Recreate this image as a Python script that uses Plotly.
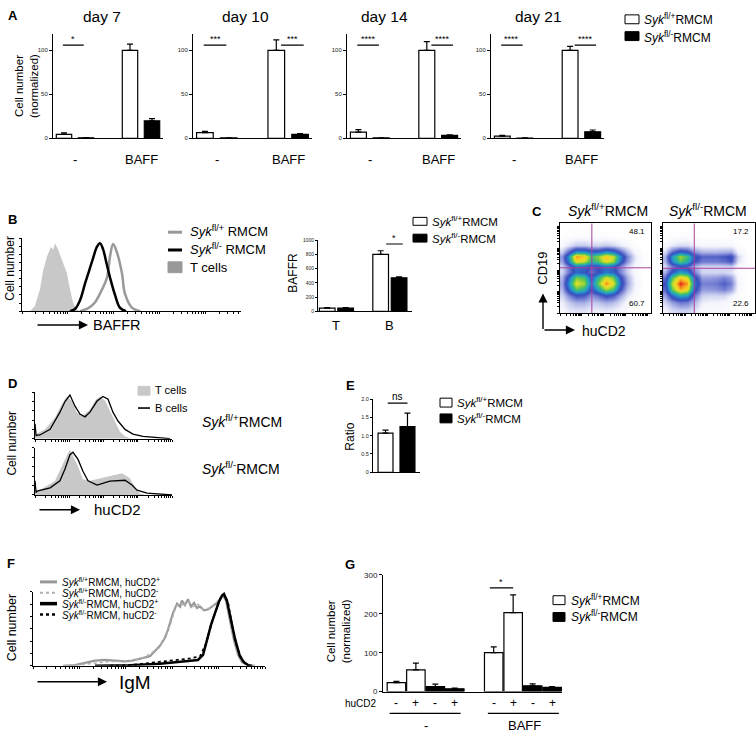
import math
import plotly.graph_objects as go

W, H = 756, 742
FONT = 'Liberation Sans, Arial, sans-serif'

# ======================= DATA =======================
# Panel A (normalized cell number)
A_days = ['day 7', 'day 10', 'day 14', 'day 21']
A_groups = ['-', 'BAFF']
A_flp = [[4.5, 100], [6.5, 100], [7, 100], [2.5, 100]]
A_flp_err = [[1.8, 7], [1.5, 12], [3, 10], [0.8, 4.5]]
A_flm = [[0.6, 20], [0.5, 4.5], [0.5, 3.4], [0.4, 7.5]]
A_flm_err = [[0.2, 2.5], [0.2, 1], [0.2, 0.6], [0.2, 2]]
A_sig = [['*', ''], ['***', '***'], ['****', '****'], ['****', '****']]

# Panel B histogram (BAFFR, relative counts)
B_T_x = [3.7, 5.9, 8.2, 9.6, 11.4, 13.2, 14.2, 15.1, 16.4, 18.3, 20.5, 21.9, 23.3, 24.7, 26.5]
B_T_y = [0, 0.07, 0.3, 0.55, 0.75, 0.88, 0.84, 0.93, 0.85, 0.7, 0.52, 0.3, 0.12, 0.03, 0]
B_flm_x = [21.9, 24.2, 26.5, 28.8, 30.6, 32.4, 34.2, 35.6, 37.0, 38.4, 40.2, 42.5, 44.7, 47.5]
B_flm_y = [0, 0.03, 0.15, 0.38, 0.55, 0.72, 0.88, 0.93, 0.85, 0.68, 0.46, 0.22, 0.05, 0]
B_flp_x = [26.5, 30.1, 33.3, 35.6, 38.8, 40.2, 41.6, 43.4, 45.7, 47.0, 50.2, 54.0]
B_flp_y = [0, 0.04, 0.12, 0.24, 0.46, 0.75, 0.92, 0.8, 0.51, 0.24, 0.05, 0]

# Panel B bar (BAFFR MFI)
B_cells = ['T', 'B']
B_bar_flp = [45, 800]
B_bar_flp_err = [5, 50]
B_bar_flm = [45, 470]
B_bar_flm_err = [5, 15]

# Panel C density grids (CD19 vs huCD2), rows bottom -> top
C_x = [2, 10, 18, 26, 34, 42, 50, 58, 66, 74, 82, 92]
C_y = [3, 12, 20, 27, 33, 40, 46, 52, 58, 63, 68, 75, 85, 97]
C_flp = [
    [0.4, 0.7, 0.8, 0.8, 0.6, 0.6, 0.7, 0.6, 0.4, 0.2, 0.05, 0],
    [0.6, 1.2, 1.6, 1.6, 1.2, 1.3, 1.6, 1.4, 0.9, 0.4, 0.1, 0],
    [1, 2.2, 3.2, 3, 2, 2.6, 3.4, 3, 1.8, 0.8, 0.2, 0],
    [1.5, 4, 6.2, 5.5, 3.2, 5, 7, 6, 3.2, 1.4, 0.4, 0],
    [1.8, 4.8, 7.8, 7, 4, 6.5, 9.2, 7.8, 4, 1.8, 0.5, 0],
    [1.5, 4, 6.5, 6, 3.5, 5.5, 7.5, 6.5, 3.5, 1.6, 0.4, 0],
    [1, 2.5, 3.8, 3.5, 2.5, 3.2, 4.2, 3.8, 2.3, 1.1, 0.3, 0],
    [1, 2.5, 4, 3.8, 3, 3.2, 4, 3.5, 2.2, 1.1, 0.3, 0],
    [1.8, 4.5, 8, 7.5, 5.5, 6.2, 8, 7, 4, 2, 0.6, 0.05],
    [2, 5, 9, 8.5, 6, 6.8, 8.5, 7.5, 4.5, 2.3, 0.7, 0.05],
    [1.2, 3, 5, 5, 4, 4, 5, 4.5, 3, 1.5, 0.4, 0],
    [0.3, 0.8, 1.2, 1.2, 1, 1, 1.2, 1, 0.7, 0.4, 0.1, 0],
    [0, 0.1, 0.2, 0.2, 0.15, 0.15, 0.15, 0.1, 0.05, 0, 0, 0],
    [0, 0, 0, 0, 0, 0, 0, 0, 0, 0, 0, 0],
]
C_flm = [
    [0.5, 0.9, 1.1, 1.1, 0.8, 0.3, 0.3, 0.25, 0.2, 0.1, 0, 0],
    [1, 1.8, 2.4, 2.3, 1.5, 0.6, 0.5, 0.5, 0.4, 0.2, 0.05, 0],
    [1.8, 3.8, 5.2, 4.8, 2.5, 1.1, 1, 1, 1, 0.6, 0.1, 0],
    [2.8, 6.4, 8.8, 8, 3.8, 1.9, 1.9, 2, 2.3, 1.8, 0.3, 0],
    [3.2, 7.2, 10, 9, 4.3, 2.3, 2.3, 2.4, 2.9, 2.3, 0.4, 0],
    [2.6, 6, 8.3, 7.6, 3.8, 1.8, 1.8, 1.9, 2.2, 1.8, 0.3, 0],
    [1.6, 3.6, 5, 4.5, 2.4, 1, 1, 1, 1, 0.8, 0.2, 0],
    [0.9, 2.3, 3.2, 2.8, 1.6, 1, 1, 1, 1, 1.1, 0.3, 0],
    [1.5, 4.3, 6.3, 5.4, 3.2, 2.4, 2.4, 2.4, 2.6, 3, 0.8, 0.05],
    [1.6, 4.8, 7, 6, 3.6, 2.8, 2.8, 2.8, 3, 3.4, 1, 0.05],
    [1, 2.8, 4, 3.6, 2.2, 1.6, 1.6, 1.6, 1.7, 1.8, 0.5, 0],
    [0.3, 0.7, 0.9, 0.9, 0.6, 0.4, 0.4, 0.4, 0.4, 0.4, 0.1, 0],
    [0, 0.1, 0.15, 0.15, 0.1, 0, 0, 0, 0, 0, 0, 0],
    [0, 0, 0, 0, 0, 0, 0, 0, 0, 0, 0, 0],
]
C_gate_x = [35, 34]
C_gate_y = [50.5, 50]
C_pct_top = ['48.1', '17.2']
C_pct_bot = ['60.7', '22.6']

# Panel D histograms (huCD2)
D_up_T_x = [0, 0.8, 7.3, 14.6, 19.7, 23.4, 27.0, 30.7, 35.0, 40.1, 44.5, 47.4, 51.1, 54.7, 58.4, 62.0, 65.7, 70.8]
D_up_T_y = [0.3, 0.1, 0.2, 0.45, 0.75, 0.92, 0.8, 0.55, 0.5, 0.62, 0.85, 0.9, 0.82, 0.6, 0.35, 0.15, 0.05, 0]
D_up_B_x = [0, 0.8, 3.6, 11.0, 18.2, 21.9, 25.5, 29.2, 32.8, 36.5, 40.1, 45.3, 49.6, 53.3, 56.9, 60.6, 65.7, 71.5, 78.8, 89.0, 98.5]
D_up_B_y = [0.32, 0.07, 0.08, 0.2, 0.57, 0.8, 0.94, 0.7, 0.53, 0.47, 0.57, 0.81, 0.91, 0.85, 0.57, 0.38, 0.2, 0.1, 0.05, 0.02, 0]
D_lo_T_x = [0, 0.8, 3.6, 14.6, 21.9, 25.5, 31.4, 35.0, 40.1, 47.4, 58.4, 63.5, 69.3, 73.0, 76.6, 80.3]
D_lo_T_y = [0.3, 0.08, 0.1, 0.3, 0.75, 0.96, 0.6, 0.33, 0.3, 0.35, 0.42, 0.46, 0.35, 0.15, 0.03, 0]
D_lo_B_x = [0, 0.8, 1.5, 11.0, 18.2, 21.9, 25.5, 27.7, 31.4, 35.0, 38.7, 45.3, 54.7, 65.7, 70.8, 74.5, 81.8, 96.4, 100]
D_lo_B_y = [0.3, 0.05, 0.08, 0.15, 0.3, 0.55, 0.85, 0.9, 0.75, 0.5, 0.3, 0.21, 0.29, 0.31, 0.21, 0.1, 0.04, 0.01, 0]

# Panel E (ratio)
E_flp, E_flp_err = 1.07, 0.08
E_flm, E_flm_err = 1.25, 0.37

# Panel F histograms (IgM)
F_gp_x = [12.9, 18.1, 22.4, 26.7, 31.0, 35.3, 39.7, 42.7, 46.1, 50.4, 54.7, 56.9, 58.2, 60.3, 62.1, 63.4, 64.2, 65.5, 66.8, 68.1,
          69.4, 70.7, 72.0, 73.7, 75.4, 77.2, 78.9, 80.6, 81.9, 83.2, 84.9, 86.6, 88.4, 90.1, 92.7, 95.7]
F_gp_y = [0, 0.01, 0.04, 0.07, 0.08, 0.07, 0.06, 0.07, 0.1, 0.13, 0.27, 0.38, 0.49, 0.71, 0.84, 0.8, 0.88, 0.82, 0.9, 0.8,
          0.85, 0.78, 0.8, 0.75, 0.76, 0.8, 0.84, 0.9, 0.95, 0.88, 0.6, 0.35, 0.15, 0.05, 0.01, 0]
F_gm_x = [15.9, 24.6, 33.2, 41.8, 48.3, 54.7, 59.1, 61.6, 63.4, 65.1, 66.8, 69.0, 71.1, 73.3, 76.3, 79.3, 81.5, 83.2, 84.9, 87.1, 89.2, 91.8, 94.4]
F_gm_y = [0, 0.03, 0.06, 0.06, 0.12, 0.25, 0.55, 0.8, 0.85, 0.8, 0.88, 0.8, 0.83, 0.76, 0.78, 0.85, 0.93, 0.9, 0.65, 0.3, 0.1, 0.02, 0]
F_bp_x = [26.7, 41.8, 54.7, 65.5, 71.1, 73.3, 75.0, 76.7, 78.4, 80.2, 81.5, 82.3, 83.6, 84.9, 87.1, 89.2, 90.9, 92.7, 94.4]
F_bp_y = [0, 0.01, 0.03, 0.06, 0.08, 0.15, 0.36, 0.55, 0.71, 0.87, 0.95, 0.97, 0.88, 0.67, 0.36, 0.13, 0.05, 0.01, 0]
F_bm_x = [33.2, 41.8, 50.4, 59.1, 67.7, 72.0, 74.6, 77.2, 79.3, 81.0, 82.3, 84.1, 85.8, 87.9, 90.1, 92.7]
F_bm_y = [0, 0.01, 0.04, 0.07, 0.1, 0.13, 0.3, 0.6, 0.8, 0.93, 0.97, 0.85, 0.55, 0.25, 0.08, 0]

# Panel G (normalized cell number)
G_groups = ['-', 'BAFF']
G_hucd2 = ['-', '+', '-', '+']
G_flp = [23, 56, 100, 203]
G_flp_err = [3, 17, 15, 46]
G_flm = [13, 7, 15, 11]
G_flm_err = [6, 2, 5, 2]

# ======================= HELPERS =======================
def X(p):
    return p / W

def Y(p):
    return 1 - p / H

layout = dict(width=W, height=H, margin=dict(l=0, r=0, t=0, b=0, pad=0),
              paper_bgcolor='white', plot_bgcolor='white', showlegend=False,
              barmode='overlay', font=dict(family=FONT, color='black'))
annotations = []
shapes = []
fig = go.Figure()

BASE = dict(showgrid=False, zeroline=False, showline=True, linecolor='black', linewidth=1,
            ticks='outside', tickcolor='black', ticklen=3, tickwidth=1,
            tickfont=dict(size=6, color='black', family=FONT), fixedrange=True)


def axes(n, xpx, ypx, xr, yr, xkw=None, ykw=None):
    xa = dict(BASE, domain=[X(xpx[0]), X(xpx[1])], range=xr, anchor='y%d' % n)
    ya = dict(BASE, domain=[Y(ypx[1]), Y(ypx[0])], range=yr, anchor='x%d' % n)
    xa.update(xkw or {})
    ya.update(ykw or {})
    layout['xaxis%d' % n] = xa
    layout['yaxis%d' % n] = ya
    return 'x%d' % n, 'y%d' % n


def log_ticks(start, decade, n_dec, limit=100):
    vals = []
    for d in range(n_dec + 1):
        for k in range(1, 10):
            v = start + decade * (d + math.log10(k))
            if v <= limit:
                vals.append(v)
    return vals


def text(x, y, s, size=12, xanchor='center', yanchor='middle', xref='paper', yref='paper', angle=0, bold=False, color='black'):
    if bold:
        s = '<b>%s</b>' % s
    annotations.append(dict(x=x, y=y, xref=xref, yref=yref, text=s, showarrow=False,
                            xanchor=xanchor, yanchor=yanchor, textangle=angle,
                            font=dict(size=size, family=FONT, color=color)))


def arrow(hx, hy, dx, dy):
    annotations.append(dict(x=X(hx), y=Y(hy), xref='paper', yref='paper', text='', showarrow=True,
                            ax=dx, ay=dy, arrowhead=2, arrowsize=1.3, arrowwidth=1.4, arrowcolor='black'))


def rect(x0, y0, x1, y1, fill, line='black'):
    shapes.append(dict(type='rect', xref='paper', yref='paper', x0=X(x0), x1=X(x1), y0=Y(y1), y1=Y(y0),
                       fillcolor=fill, line=dict(color=line, width=1)))


def hline_px(x0, x1, y, color, width, dash='solid'):
    shapes.append(dict(type='line', xref='paper', yref='paper', x0=X(x0), x1=X(x1), y0=Y(y), y1=Y(y),
                       line=dict(color=color, width=width, dash=dash)))


def bars(xa, ya, xs, ys, errs, color, width):
    fig.add_trace(go.Bar(x=xs, y=ys, width=width, xaxis=xa, yaxis=ya,
                         marker=dict(color=color, line=dict(color='black', width=1.2)),
                         error_y=dict(type='data', array=errs, arrayminus=[0] * len(errs), symmetric=False,
                                      color='black', thickness=1.2, width=3)))


def sig(xa, ya, x0, x1, y, star, size=9):
    shapes.append(dict(type='line', xref=xa, yref=ya, x0=x0, x1=x1, y0=y, y1=y,
                       line=dict(color='black', width=1.2)))
    annotations.append(dict(x=(x0 + x1) / 2, y=y, xref=xa, yref=ya, text=star, showarrow=False,
                            yanchor='bottom', yshift=-1, font=dict(size=size, family=FONT, color='black')))


SYK_P = '<i>Syk</i><sup>fl/+</sup>RMCM'
SYK_M = '<i>Syk</i><sup>fl/-</sup>RMCM'

# ======================= PANEL A =======================
A_xpx = [(53, 163), (193, 312), (347, 461), (491, 604)]
A_title_px = [102, 245, 384, 538]
for i in range(4):
    xa, ya = axes(i + 1, A_xpx[i], (30, 136), [-0.5, 4.5], [0, 119],
                  xkw=dict(ticks='', showticklabels=False),
                  ykw=dict(tickvals=[0, 50, 100], tickfont=dict(size=6, family=FONT, color='#222')))
    bars(xa, ya, [0, 3], A_flp[i], A_flp_err[i], 'white', 0.7)
    bars(xa, ya, [1, 4], A_flm[i], A_flm_err[i], 'black', 0.7)
    for g, gx in zip(A_groups, [0.5, 3.5]):
        text(gx, Y(157), g, size=13, xref=xa)
    text(X(A_title_px[i]), Y(13), A_days[i], size=15.5)
    if A_sig[i][0]:
        sig(xa, ya, -0.05, 0.9, 106, A_sig[i][0])
    if A_sig[i][1]:
        sig(xa, ya, 3.2, 4.15, 106, A_sig[i][1])
text(X(27), Y(83), 'Cell number<br>(normalized)', size=11.5, angle=-90)
text(X(6), Y(12), 'A', size=13, bold=True, xanchor='left')
rect(625, 11, 639, 20, 'white')
rect(625, 28, 639, 37, 'black')
text(X(642), Y(15), SYK_P, size=12, xanchor='left')
text(X(642), Y(33), SYK_M, size=12, xanchor='left')

# ======================= PANEL B =======================
xa, ya = axes(5, (22, 241), (237, 311), [0, 100], [0, 1],
              xkw=dict(tickvals=log_ticks(0, 21, 4), showticklabels=False, ticklen=2),
              ykw=dict(tickvals=[i / 9 for i in range(10)], showticklabels=False, ticklen=2))
fig.add_trace(go.Scatter(x=B_T_x, y=B_T_y, mode='lines', fill='tozeroy', fillcolor='#c8c8c8',
                         line=dict(width=0, color='#c8c8c8'), xaxis=xa, yaxis=ya))
fig.add_trace(go.Scatter(x=B_flp_x, y=B_flp_y, mode='lines', line=dict(width=2.5, color='#999999', shape='spline'),
                         xaxis=xa, yaxis=ya))
fig.add_trace(go.Scatter(x=B_flm_x, y=B_flm_y, mode='lines', line=dict(width=2.5, color='black', shape='spline'),
                         xaxis=xa, yaxis=ya))
text(X(10), Y(268), 'Cell number', size=12, angle=-90)
arrow(88, 325, -52, 0)
text(X(91), Y(325), 'BAFFR', size=14.5, xanchor='left')
text(X(6), Y(218), 'B', size=13, bold=True, xanchor='left')
hline_px(168, 182, 231, '#999999', 3)
hline_px(168, 182, 249, 'black', 3)
rect(168, 261, 182, 272, '#999999', line='#999999')
text(X(188), Y(230), '<i>Syk</i><sup>fl/+</sup> RMCM', size=13, xanchor='left')
text(X(188), Y(248), '<i>Syk</i><sup>fl/-</sup> RMCM', size=13, xanchor='left')
text(X(188), Y(267), 'T cells', size=13, xanchor='left')

xa, ya = axes(6, (318, 412), (239, 311), [-0.5, 4.6], [0, 1000],
              xkw=dict(ticks='', showticklabels=False),
              ykw=dict(tickvals=[0, 200, 400, 600, 800, 1000], tickfont=dict(size=5, family=FONT, color='#222'), ticklen=2))
bars(xa, ya, [0, 2.9], B_bar_flp, B_bar_flp_err, 'white', 0.85)
bars(xa, ya, [1, 3.9], B_bar_flm, B_bar_flm_err, 'black', 0.85)
for c, cx in zip(B_cells, [0.5, 3.4]):
    text(cx, Y(325), c, size=13, xref=xa)
sig(xa, ya, 3.2, 4.1, 945, '*', size=9)
text(X(293), Y(272), 'BAFFR', size=12, angle=-90)
rect(413, 216, 427, 224, 'white')
rect(413, 233, 427, 241, 'black')
text(X(430), Y(220), SYK_P, size=11.5, xanchor='left')
text(X(430), Y(237), SYK_M, size=11.5, xanchor='left')

# ======================= PANEL C =======================
cscale = [[0, '#ffffff'], [0.05, '#f4f5fc'], [0.12, '#c5caee'], [0.22, '#7c86d6'], [0.32, '#3a4cbc'],
          [0.42, '#2a78cc'], [0.5, '#26a8c0'], [0.58, '#34b886'], [0.66, '#7ccc40'], [0.75, '#d4e030'],
          [0.83, '#f6d420'], [0.9, '#f59a1e'], [0.96, '#ee5a1c'], [1, '#dc1e1e']]
C_xpx = [(560, 651), (663, 755)]
C_titles = [SYK_P, SYK_M]
C_title_px = [608, 708]
for j, zdat in enumerate([C_flp, C_flm]):
    n = 7 + j
    xa, ya = axes(n, C_xpx[j], (222, 313), [0, 100], [0, 100],
                  xkw=dict(mirror=True, tickvals=log_ticks(0, 24, 4), showticklabels=False, ticklen=2),
                  ykw=dict(mirror=True, tickvals=log_ticks(0, 24, 4), showticklabels=False, ticklen=2))
    fig.add_trace(go.Heatmap(x=C_x, y=C_y, z=zdat, zmin=0, zmax=10, colorscale=cscale, showscale=False,
                             zsmooth='best', xaxis=xa, yaxis=ya, hoverinfo='skip'))
    shapes.append(dict(type='line', xref=xa, yref=ya, x0=C_gate_x[j], x1=C_gate_x[j], y0=0, y1=100,
                       line=dict(color='#a8409c', width=1)))
    shapes.append(dict(type='line', xref=xa, yref=ya, x0=0, x1=100, y0=C_gate_y[j], y1=C_gate_y[j],
                       line=dict(color='#a8409c', width=1)))
    text(96, 91, C_pct_top[j], size=8, xanchor='right', xref=xa, yref=ya)
    text(96, 11, C_pct_bot[j], size=8, xanchor='right', xref=xa, yref=ya)
    text(X(C_title_px[j]), Y(209), C_titles[j], size=14)
text(X(537), Y(210), 'C', size=13, bold=True)
arrow(543, 293, 0, 37)
arrow(575, 330, -32, 0)
text(X(543), Y(268), 'CD19', size=13, angle=-90)
text(X(580), Y(331), 'huCD2', size=14, xanchor='left')

# ======================= PANEL D =======================
D_sets = [((393, 440), D_up_T_x, D_up_T_y, D_up_B_x, D_up_B_y),
          ((449, 497), D_lo_T_x, D_lo_T_y, D_lo_B_x, D_lo_B_y)]
for k, (ypx, tx, ty, bx, by) in enumerate(D_sets):
    xa, ya = axes(9 + k, (35, 172), ypx, [0, 100], [0, 1],
                  xkw=dict(tickvals=log_ticks(0, 25, 4), showticklabels=False, ticklen=2),
                  ykw=dict(tickvals=[i / 5 for i in range(6)], showticklabels=False, ticklen=2))
    fig.add_trace(go.Scatter(x=tx, y=ty, mode='lines', fill='tozeroy', fillcolor='#c8c8c8',
                             line=dict(width=0, color='#c8c8c8'), xaxis=xa, yaxis=ya))
    fig.add_trace(go.Scatter(x=bx, y=by, mode='lines', line=dict(width=1.3, color='black'),
                             xaxis=xa, yaxis=ya))
text(X(12), Y(445), 'Cell number', size=12, angle=-90)
arrow(80, 512, -42, 0)
text(X(92), Y(512), 'huCD2', size=15, xanchor='left')
text(X(6), Y(384), 'D', size=13, bold=True, xanchor='left')
rect(138, 387, 150, 396, '#c8c8c8', line='#c8c8c8')
hline_px(138, 150, 409, 'black', 1.6)
text(X(153), Y(391), 'T cells', size=11, xanchor='left')
text(X(153), Y(409), 'B cells', size=11, xanchor='left')
text(X(200), Y(422), SYK_P, size=14, xanchor='left')
text(X(200), Y(470), SYK_M, size=14, xanchor='left')

# ======================= PANEL E =======================
xa, ya = axes(11, (373, 420), (400, 474), [-0.57, 1.57], [0, 2],
              xkw=dict(ticks='', showticklabels=False),
              ykw=dict(tickvals=[0, 0.5, 1, 1.5, 2], ticktext=['0', '0.5', '1.0', '1.5', '2.0'],
                       tickfont=dict(size=5.5, family=FONT, color='#222'), ticklen=2))
bars(xa, ya, [0], [E_flp], [E_flp_err], 'white', 0.68)
bars(xa, ya, [1], [E_flm], [E_flm_err], 'black', 0.68)
sig(xa, ya, 0.1, 1.0, 1.89, 'ns', size=10)
text(X(350), Y(438), 'Ratio', size=12, angle=-90)
text(X(350), Y(386), 'E', size=13, bold=True)
rect(440, 399, 452, 408, 'white')
rect(440, 415, 452, 424, 'black')
text(X(455), Y(403), SYK_P, size=11.5, xanchor='left')
text(X(455), Y(419), SYK_M, size=11.5, xanchor='left')

# ======================= PANEL F =======================
xa, ya = axes(12, (33, 265), (595, 670), [0, 100], [0, 1],
              xkw=dict(tickvals=log_ticks(0, 20, 5), showticklabels=False, ticklen=2),
              ykw=dict(tickvals=[i / 6 for i in range(7)], showticklabels=False, ticklen=2))
fig.add_trace(go.Scatter(x=F_gp_x, y=F_gp_y, mode='lines', line=dict(width=2.2, color='#999999'), xaxis=xa, yaxis=ya))
fig.add_trace(go.Scatter(x=F_gm_x, y=F_gm_y, mode='lines', line=dict(width=1.5, color='#b0b0b0', dash='dot'), xaxis=xa, yaxis=ya))
fig.add_trace(go.Scatter(x=F_bp_x, y=F_bp_y, mode='lines', line=dict(width=2.5, color='black'), xaxis=xa, yaxis=ya))
fig.add_trace(go.Scatter(x=F_bm_x, y=F_bm_y, mode='lines', line=dict(width=1.8, color='black', dash='dot'), xaxis=xa, yaxis=ya))
text(X(12), Y(632), 'Cell number', size=12.5, angle=-90)
arrow(107, 686, -71, 0)
text(X(117), Y(687), 'IgM', size=19, xanchor='left')
text(X(5), Y(566), 'F', size=13, bold=True, xanchor='left')
hline_px(40, 57, 585, '#999999', 3)
hline_px(40, 57, 596, '#b0b0b0', 2, 'dot')
hline_px(40, 57, 607, 'black', 3.5)
hline_px(40, 57, 618, 'black', 2.5, 'dot')
F_leg = [SYK_P + ', huCD2<sup>+</sup>', SYK_P + ', huCD2<sup>-</sup>',
         SYK_M + ', huCD2<sup>+</sup>', SYK_M + ', huCD2<sup>-</sup>']
for t, yy in zip(F_leg, [585, 596, 607, 618]):
    text(X(60), Y(yy), t, size=10, xanchor='left')

# ======================= PANEL G =======================
xa, ya = axes(13, (383, 562), (578, 696), [-0.69, 8.51], [0, 300],
              xkw=dict(ticks='', showticklabels=False),
              ykw=dict(tickvals=[0, 100, 200, 300], tickfont=dict(size=8, family=FONT, color='#222'), ticklen=3))
bars(xa, ya, [0, 1, 5, 6], G_flp, G_flp_err, 'white', 0.95)
bars(xa, ya, [2, 3, 7, 8], G_flm, G_flm_err, 'black', 0.95)
sig(xa, ya, 4.8, 6.0, 267, '*', size=9)
for pos, lab in zip([0, 1, 2, 3, 5, 6, 7, 8], G_hucd2 * 2):
    text(pos, Y(708), lab, size=12, xref=xa)
text(X(379), Y(708), 'huCD2', size=10, xanchor='right')
shapes.append(dict(type='line', xref=xa, yref='paper', x0=-0.35, x1=3.3, y0=Y(718), y1=Y(718), line=dict(color='black', width=1.2)))
shapes.append(dict(type='line', xref=xa, yref='paper', x0=4.7, x1=8.35, y0=Y(718), y1=Y(718), line=dict(color='black', width=1.2)))
text(1.5, Y(730), G_groups[0], size=13, xref=xa)
text(6.6, Y(730), G_groups[1], size=13, xref=xa)
text(X(338), Y(635), 'Cell number<br>(normalized)', size=11.5, angle=-90)
text(X(350), Y(567), 'G', size=13, bold=True)
rect(553, 599, 565, 608, 'white')
rect(553, 616, 565, 625, 'black')
text(X(569), Y(603), SYK_P, size=12, xanchor='left')
text(X(569), Y(620), SYK_M, size=12, xanchor='left')

layout['annotations'] = annotations
layout['shapes'] = shapes
fig.update_layout(**layout)
fig.write_html('out.html', config={'displayModeBar': False, 'responsive': False},
               post_script="document.body.style.margin='0px';document.body.style.padding='0px';"
                           "document.documentElement.style.overflow='hidden';")
